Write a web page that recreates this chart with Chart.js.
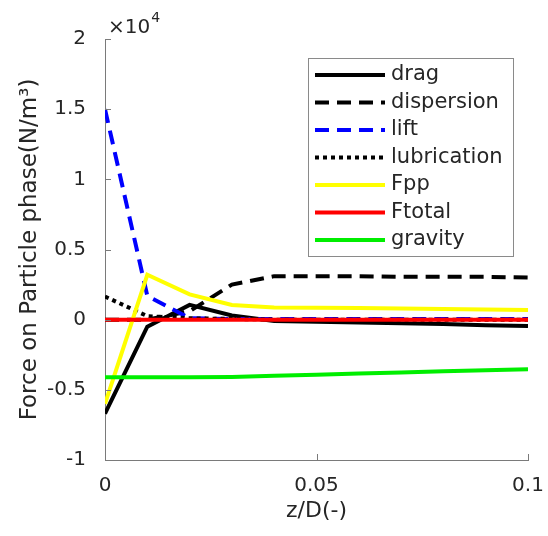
<!DOCTYPE html>
<html>
<head>
<meta charset="utf-8">
<script src="https://cdn.jsdelivr.net/npm/chart.js@4.4.1/dist/chart.umd.min.js"></script>
<style>
  body { margin: 0; background: #fff; }
  canvas { display: block; }
</style>
</head>
<body>
<canvas id="forceChart" width="548" height="536"></canvas>
<script>
// z/D positions of the samples
const zD = [0, 0.01, 0.02, 0.03, 0.04, 0.05, 0.06, 0.07, 0.08, 0.09, 0.1];

// forces in N/m^3
const drag        = [-6700, -500, 1050, 300, -100, -150, -200, -250, -300, -400, -450];
const dispersion  = [0, 0, 600, 2500, 3100, 3100, 3100, 3050, 3050, 3050, 3000];
const lift        = [15000, 1700, 100, 50, 50, 50, 50, 50, 50, 50, 50];
const lubrication = [1650, 250, 100, 50, 0, 0, 0, 0, 0, 0, 0];
const Fpp         = [-6000, 3200, 1800, 1050, 870, 850, 830, 800, 760, 720, 680];
const Ftotal      = [0, 0, 0, 0, 0, 0, 0, 0, 0, 0, 0];
const gravity     = [-4100, -4100, -4100, -4080, -4000, -3920, -3840, -3760, -3680, -3600, -3540];

const xTicks = [0, 0.05, 0.1];
const xTickLabels = ["0", "0.05", "0.1"];
const yTicks = [-10000, -5000, 0, 5000, 10000, 15000, 20000];
const yTickLabels = ["-1", "-0.5", "0", "0.5", "1", "1.5", "2"];

const FONT = "'DejaVu Sans', sans-serif";
const TEXT = "#262626";
const AXIS = "#7a7a7a";

function pts(ys) {
  return zD.map((x, i) => ({ x: x, y: ys[i] }));
}

function series(label, ys, color, dash, i) {
  return {
    label: label,
    data: pts(ys),
    borderColor: color,
    backgroundColor: color,
    borderWidth: 4,
    borderDash: dash,
    pointRadius: 0,
    tension: 0,
    fill: false,
    order: 10 - i   // later series on top, like MATLAB
  };
}

const datasets = [
  series("drag", drag, "#000000", [], 0),
  series("dispersion", dispersion, "#000000", [14, 8], 1),
  series("lift", lift, "#0000ff", [14, 8], 2),
  series("lubrication", lubrication, "#000000", [4, 4], 3),
  series("Fpp", Fpp, "#ffff00", [], 4),
  series("Ftotal", Ftotal, "#ff0000", [], 5),
  series("gravity", gravity, "#00ee00", [], 6)
];

// inward ticks, x10^4 exponent and the boxed legend
const extras = {
  id: "extras",
  afterDraw(chart) {
    const ctx = chart.ctx;
    const a = chart.chartArea;
    const xs = chart.scales.x, ys = chart.scales.y;
    ctx.save();
    ctx.strokeStyle = AXIS;
    ctx.lineWidth = 1;
    ctx.beginPath();
    xTicks.forEach(v => {
      const px = Math.round(xs.getPixelForValue(v)) + 0.5;
      ctx.moveTo(px, a.bottom);
      ctx.lineTo(px, a.bottom - 6);
    });
    yTicks.forEach(v => {
      const py = Math.round(ys.getPixelForValue(v)) + 0.5;
      ctx.moveTo(a.left, py);
      ctx.lineTo(a.left + 6, py);
    });
    ctx.stroke();

    // exponent
    ctx.fillStyle = TEXT;
    ctx.textBaseline = "alphabetic";
    ctx.textAlign = "left";
    ctx.font = "20px " + FONT;
    ctx.fillText("\u00d710", a.left + 3, 33);
    const w = ctx.measureText("\u00d710").width;
    ctx.font = "14px " + FONT;
    ctx.fillText("4", a.left + 4 + w, 22);

    // legend
    const lx = 308, ly = 58, lw = 205, lh = 198;
    ctx.fillStyle = "#fff";
    ctx.fillRect(lx, ly, lw, lh);
    ctx.strokeStyle = "#8a8a8a";
    ctx.strokeRect(lx + 0.5, ly + 0.5, lw, lh);
    ctx.font = "21px " + FONT;
    ctx.textBaseline = "middle";
    chart.data.datasets.forEach((d, i) => {
      const y = 75 + i * 27.5;
      ctx.strokeStyle = d.borderColor;
      ctx.lineWidth = d.borderWidth;
      ctx.setLineDash(d.borderDash);
      ctx.beginPath();
      ctx.moveTo(315, y);
      ctx.lineTo(385, y);
      ctx.stroke();
      ctx.setLineDash([]);
      ctx.fillStyle = TEXT;
      ctx.fillText(d.label, 391, y);
    });
    ctx.restore();
  }
};

new Chart(document.getElementById("forceChart"), {
  type: "line",
  data: { datasets: datasets },
  plugins: [extras],
  options: {
    responsive: false,
    animation: false,
    layout: { padding: { top: 39, right: 20, left: 0, bottom: 0 } },
    plugins: { legend: { display: false }, tooltip: { enabled: false } },
    scales: {
      x: {
        type: "linear",
        min: 0,
        max: 0.1,
        afterBuildTicks: s => { s.ticks = xTicks.map(v => ({ value: v })); },
        afterFit: s => { s.height = 76; s.paddingLeft = 0; s.paddingRight = 0; },
        grid: { display: false },
        border: { display: true, color: AXIS, width: 1 },
        ticks: {
          color: TEXT,
          font: { family: FONT, size: 20 },
          padding: 6,
          maxRotation: 0,
          callback: (v, i) => xTickLabels[i]
        },
        title: {
          display: true,
          text: "z/D(-)",
          color: TEXT,
          font: { family: FONT, size: 22 },
          padding: { top: 0, bottom: 12 }
        }
      },
      y: {
        type: "linear",
        min: -10000,
        max: 20000,
        afterBuildTicks: s => { s.ticks = yTicks.map(v => ({ value: v })); },
        afterFit: s => { s.width = 105; s.paddingTop = 0; s.paddingBottom = 0; },
        grid: { display: false },
        border: { display: true, color: AXIS, width: 1 },
        ticks: {
          color: TEXT,
          font: { family: FONT, size: 20 },
          padding: 11,
          callback: (v, i) => yTickLabels[i]
        },
        title: {
          display: true,
          text: "Force on Particle phase(N/m\u00b3)",
          color: TEXT,
          font: { family: FONT, size: 23 },
          padding: { top: 16, bottom: 0 }
        }
      }
    }
  }
});
</script>
</body>
</html>
